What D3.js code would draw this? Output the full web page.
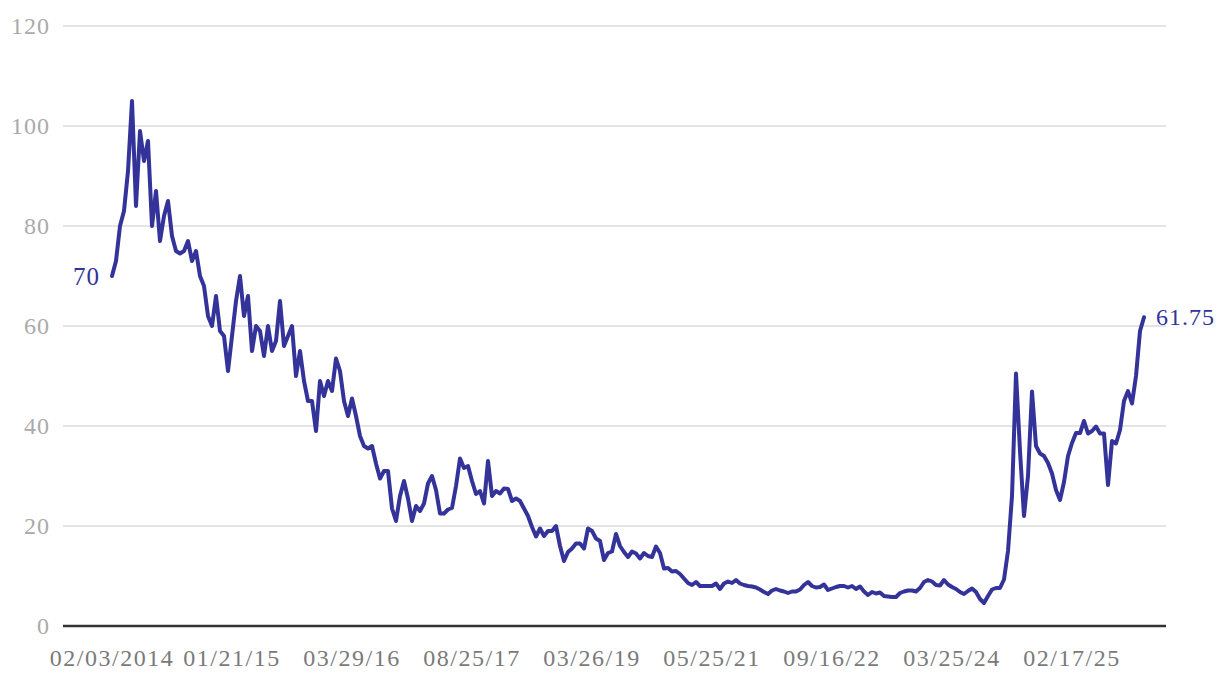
<!DOCTYPE html>
<html>
<head>
<meta charset="utf-8">
<script src="https://cdn.jsdelivr.net/npm/d3@7"></script>
<style>
  body { margin: 0; background: #fff; }
  svg { display: block; font-family: "Liberation Serif", serif; }
</style>
</head>
<body>
<svg width="1220" height="680"></svg>
<script>
var values = [
  70, 73, 80, 83, 91, 105, 84, 99, 93, 97,
  80, 87, 77, 82, 85, 78, 75, 74.5, 75, 77,
  73, 75, 70, 68, 62, 60, 66, 59, 58, 51,
  58, 65, 70, 62, 66, 55, 60, 59, 54, 60,
  55, 57, 65, 56, 58, 60, 50, 55, 49, 45,
  45, 39, 49, 46, 49, 47, 53.5, 51, 45, 42,
  45.5, 42, 38, 36, 35.5, 36, 32.5, 29.5, 31, 31,
  23.5, 21, 26, 29, 25.5, 21, 24, 23, 24.5, 28.5,
  30, 27.2, 22.5, 22.5, 23.3, 23.6, 28, 33.5, 31.6, 32,
  29, 26.4, 27, 24.5, 33, 26, 27, 26.5, 27.5, 27.4,
  25, 25.5, 25, 23.5, 22, 19.8, 17.9, 19.5, 18, 19,
  19, 20, 16, 13, 14.8, 15.5, 16.5, 16.5, 15.5, 19.5,
  19, 17.5, 17, 13.2, 14.6, 14.9, 18.4, 16, 14.8, 13.8,
  14.9, 14.5, 13.5, 14.6, 14, 13.8, 15.9, 14.6, 11.5, 11.6,
  10.9, 11, 10.4, 9.5, 8.6, 8.2, 8.8, 8, 8, 8,
  8, 8.5, 7.4, 8.5, 8.9, 8.6, 9.2, 8.5, 8.2, 8,
  7.9, 7.7, 7.3, 6.8, 6.4, 7.1, 7.4, 7.1, 6.9, 6.6,
  6.9, 6.9, 7.3, 8.2, 8.8, 8, 7.7, 7.8, 8.3, 7.2,
  7.5, 7.8, 8, 8, 7.7, 8, 7.4, 7.9, 6.9, 6.2,
  6.8, 6.5, 6.7, 6, 5.9, 5.8, 5.8, 6.6, 6.9, 7.1,
  7.1, 6.9, 7.6, 8.8, 9.2, 8.9, 8.2, 8.1, 9.2, 8.3,
  7.8, 7.4, 6.8, 6.4, 7, 7.5, 6.8, 5.4, 4.6, 6,
  7.3, 7.6, 7.6, 9.3, 15, 26, 50.5, 35, 22, 30,
  46.9, 36, 34.5, 34, 32.6, 30.5, 27.2, 25.2, 28.8, 34,
  36.6, 38.6, 38.6, 41, 38.5, 39, 39.9, 38.5, 38.5, 28.2,
  37, 36.5, 39.2, 45, 47, 44.5, 50, 59, 61.75
];

// x tick labels and the observation they sit under
var tickLabels = ["02/03/2014", "01/21/15", "03/29/16", "08/25/17", "03/26/19",
                  "05/25/21", "09/16/22", "03/25/24", "02/17/25"];
var tickIndex = [0, 30, 60, 90, 120, 150, 180, 210, 240];

var yTicks = [0, 20, 40, 60, 80, 100, 120];

var svg = d3.select("svg");
var lineColor = "#333399";

var x = d3.scaleLinear()
    .domain([0, values.length - 1])
    .range([112, 1144]);

var y = d3.scaleLinear()
    .domain([0, 120])
    .range([626, 26]);

// gridlines
svg.append("g")
    .selectAll("line")
    .data(yTicks.filter(function (d) { return d > 0; }))
    .enter().append("line")
    .attr("x1", 63)
    .attr("x2", 1166)
    .attr("y1", function (d) { return y(d); })
    .attr("y2", function (d) { return y(d); })
    .attr("stroke", "#e4e4e4")
    .attr("stroke-width", 1.8);

// y labels
svg.append("g")
    .selectAll("text")
    .data(yTicks)
    .enter().append("text")
    .attr("x", 50)
    .attr("y", function (d) { return y(d); })
    .attr("dy", "0.34em")
    .attr("text-anchor", "end")
    .attr("fill", "#aaaaaa")
    .style("font-size", "24px")
    .style("letter-spacing", "1px")
    .text(function (d) { return d; });

// baseline
svg.append("line")
    .attr("x1", 63)
    .attr("x2", 1166)
    .attr("y1", y(0))
    .attr("y2", y(0))
    .attr("stroke", "#333")
    .attr("stroke-width", 2.6);

// x labels
svg.append("g")
    .selectAll("text")
    .data(tickIndex)
    .enter().append("text")
    .attr("x", function (d) { return x(d); })
    .attr("y", 666)
    .attr("text-anchor", "middle")
    .attr("fill", "#7a7a7a")
    .style("font-size", "24px")
    .style("letter-spacing", "1.5px")
    .text(function (d, i) { return tickLabels[i]; });

// the line
var line = d3.line()
    .x(function (d, i) { return x(i); })
    .y(function (d) { return y(d); });

svg.append("path")
    .datum(values)
    .attr("d", line)
    .attr("fill", "none")
    .attr("stroke", lineColor)
    .attr("stroke-width", 4)
    .attr("stroke-linejoin", "round")
    .attr("stroke-linecap", "round");

// first and last value labels
var last = values.length - 1;
svg.append("text")
    .attr("x", x(0) - 12)
    .attr("y", y(values[0]))
    .attr("dy", "0.34em")
    .attr("text-anchor", "end")
    .attr("fill", lineColor)
    .style("font-size", "25px")
    .style("letter-spacing", "1px")
    .text(values[0]);

svg.append("text")
    .attr("x", x(last) + 12)
    .attr("y", y(values[last]))
    .attr("dy", "0.34em")
    .attr("fill", lineColor)
    .style("font-size", "24px")
    .style("letter-spacing", "1px")
    .text(values[last]);
</script>
</body>
</html>
